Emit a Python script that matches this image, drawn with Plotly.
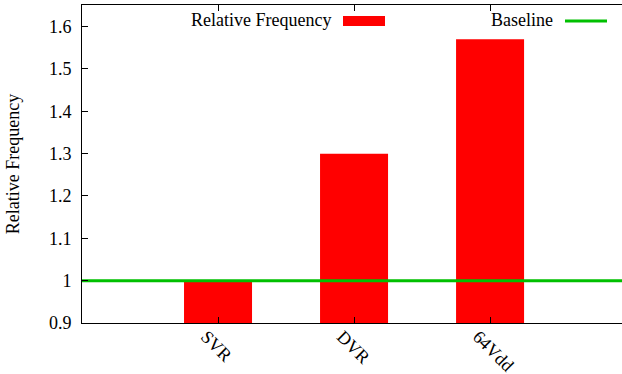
import plotly.graph_objects as go

categories = ["SVR", "DVR", "64Vdd"]
rel_freq = [1.0, 1.3, 1.57]
baseline_x = [-1, 3]
baseline_y = [1.0, 1.0]
y_ticks = [0.9, 1.0, 1.1, 1.2, 1.3, 1.4, 1.5, 1.6]
y_ticktext = ["0.9", "1", "1.1", "1.2", "1.3", "1.4", "1.5", "1.6"]

FONT = "Liberation Serif"
FS = 18
W, H = 622, 374
L, R, T, B = 82, 0, 5, 51
pw, ph = W - L - R, H - T - B

def px(x):
    return (x - L) / pw

def py(y):
    return (H - B - y) / ph

fig = go.Figure()
fig.add_trace(go.Bar(
    x=list(range(len(categories))), y=rel_freq, width=0.5,
    marker=dict(color="#ff0000", line=dict(width=0)),
    name="Relative Frequency", showlegend=False,
))
fig.add_trace(go.Scatter(
    x=baseline_x, y=baseline_y, mode="lines",
    line=dict(color="#00c000", width=3),
    name="Baseline", showlegend=False,
))

# legend (gnuplot style: text then sample)
fig.add_annotation(x=px(333), y=py(20), xref="paper", yref="paper",
                   text="Relative Frequency", showarrow=False,
                   xanchor="right", yanchor="middle",
                   font=dict(family=FONT, size=FS, color="black"))
fig.add_shape(type="rect", xref="paper", yref="paper",
              x0=px(343), x1=px(385), y0=py(26), y1=py(16),
              fillcolor="#ff0000", line=dict(width=0))
fig.add_annotation(x=px(555), y=py(20), xref="paper", yref="paper",
                   text="Baseline", showarrow=False,
                   xanchor="right", yanchor="middle",
                   font=dict(family=FONT, size=FS, color="black"))
fig.add_shape(type="line", xref="paper", yref="paper",
              x0=px(565), x1=px(607), y0=py(21), y1=py(21),
              line=dict(color="#00c000", width=3))

fig.update_layout(
    width=W, height=H, autosize=False, showlegend=False,
    margin=dict(l=L, r=R, t=T, b=B, pad=0, autoexpand=False),
    plot_bgcolor="white", paper_bgcolor="white",
    font=dict(family=FONT, size=FS, color="black"),
    bargap=0.5,
    yaxis2=dict(
        overlaying="y", side="right", anchor="x", range=[0.9, 1.651],
        tickvals=y_ticks, showticklabels=False, ticks="inside", ticklen=6,
        tickcolor="black", showline=False, showgrid=False, zeroline=False,
    ),
)
fig.update_xaxes(
    range=[-1, 2.97], tickvals=list(range(len(categories))), ticktext=categories,
    tickangle=45, ticks="inside", ticklen=6, tickcolor="black",
    showline=True, linecolor="black", linewidth=1, mirror="ticks",
    showgrid=False, zeroline=False, ticklabelshift=-12, automargin=False,
    ticklabelstandoff=-5,
)
fig.update_yaxes(
    selector=dict(overlaying=None),
    range=[0.9, 1.651], tickvals=y_ticks, ticktext=y_ticktext,
    ticks="inside", ticklen=6, tickcolor="black",
    showline=True, linecolor="black", linewidth=1, mirror=False,
    showgrid=False, zeroline=False, ticklabelstandoff=6, automargin=False,
    title=dict(text="Relative Frequency", standoff=24, font=dict(size=FS)),
)
fig.write_html("out.html", config={"displayModeBar": False})
